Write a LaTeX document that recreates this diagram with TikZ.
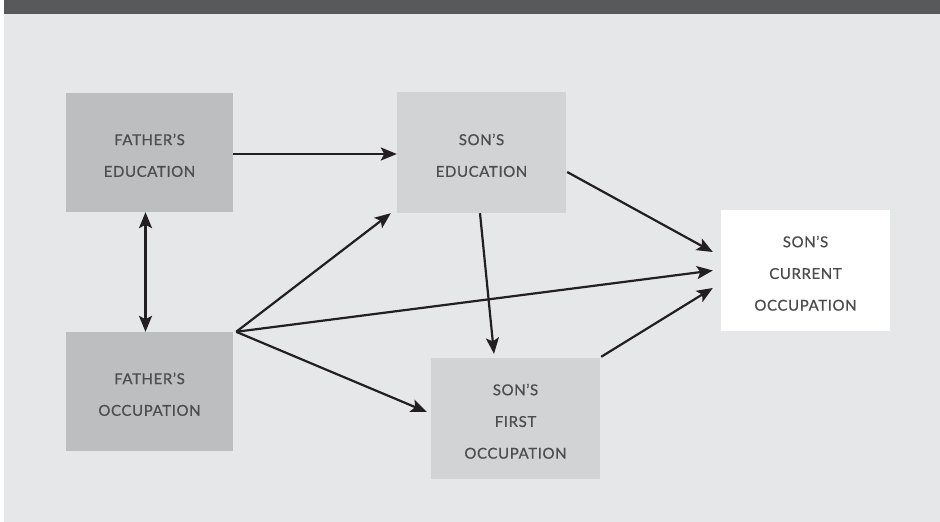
\documentclass[tikz,border=0pt]{standalone}
\usepackage{fontspec}
\setmainfont{Lato}[LetterSpace=4, FakeBold=0.7]
\usetikzlibrary{arrows.meta}
\definecolor{barc}{HTML}{58595B}
\definecolor{bgc}{HTML}{E6E7E8}
\definecolor{darkbox}{HTML}{BCBEC0}
\definecolor{lightbox}{HTML}{D1D3D4}
\definecolor{txt}{HTML}{4D4D4F}
\definecolor{arr}{HTML}{231F20}
\newcommand\topstrut{\rule{0pt}{17pt}}
\tikzset{
  box/.style={rectangle, inner sep=0pt, align=center, text=txt,
    font=\fontsize{15}{31.7}\selectfont},
  fbox/.style={box, fill=darkbox, minimum width=167pt, minimum height=119pt},
  sbox/.style={box, fill=lightbox, minimum width=169pt, minimum height=121pt},
  wbox/.style={box, fill=white, minimum width=169pt, minimum height=121pt},
  conn/.style={draw=arr, line width=2.2pt, -{Stealth[length=16pt,width=13pt,inset=3.5pt]}},
  bconn/.style={draw=arr, line width=2.2pt, {Stealth[length=16pt,width=13pt,inset=3.5pt]}-{Stealth[length=16pt,width=13pt,inset=3.5pt]}}
}
\begin{document}
\begin{tikzpicture}[x=1pt,y=-1pt]
\useasboundingbox (0,0) rectangle (940,522);
\fill[white] (0,0) rectangle (940,522);
\fill[bgc] (3.5,14) rectangle (940,522);
\fill[barc] (3.5,0) rectangle (940,14);

\node[fbox] (fe) at (149.5,152.5) {\topstrut FATHER’S\\EDUCATION};
\node[fbox] (fo) at (149.5,391.5) {\topstrut FATHER’S\\OCCUPATION};
\node[sbox] (se) at (481.5,152.5) {\topstrut SON’S\\EDUCATION};
\node[sbox] (sfo) at (515.5,418.5) {\topstrut SON’S\\FIRST\\OCCUPATION};
\node[wbox] (sco) at (805.5,270.5) {\topstrut SON’S\\CURRENT\\OCCUPATION};

\coordinate (foc) at ([xshift=3pt]fo.north east);

\draw[conn] ([yshift=-1.5pt]fe.east) -- ([yshift=-1.5pt]se.west);
\draw[bconn] ([xshift=-4pt]fe.south) -- ([xshift=-4pt]fo.north);
\draw[conn] (foc) -- ([xshift=-6pt]se.south west);
\draw[conn] (foc) -- ([xshift=-8pt]sco.west);
\draw[conn] (foc) -- ([xshift=-4pt,yshift=6.5pt]sfo.west);
\draw[conn] ([xshift=1pt,yshift=-19.5pt]se.east) -- ([xshift=-8pt,yshift=18.5pt]sco.west);
\draw[conn] ([xshift=-1.5pt]se.south) -- ([xshift=-21.5pt,yshift=4pt]sfo.north);
\draw[conn] ([xshift=1pt,yshift=1pt]sfo.north east) -- ([xshift=-8pt,yshift=-17.5pt]sco.west);
\end{tikzpicture}
\end{document}
